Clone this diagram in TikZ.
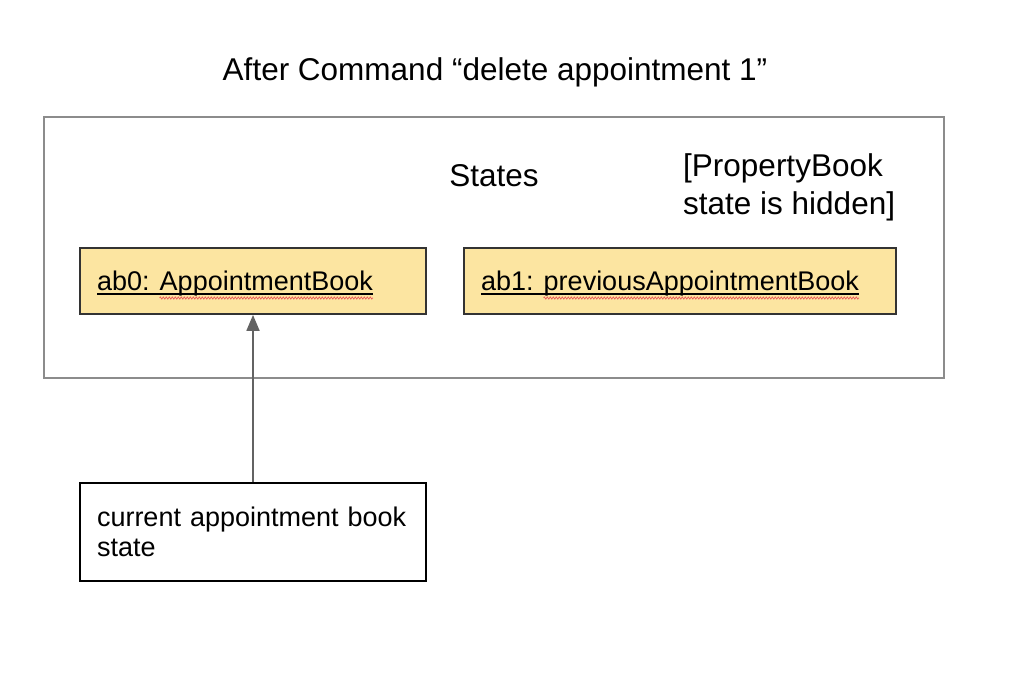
\documentclass[tikz,border=0pt]{standalone}
\usepackage{fontspec}
\setmainfont{Liberation Sans}
\usepackage{xcolor}
\usepackage{tikz}
\usetikzlibrary{positioning, arrows.meta, decorations.pathmorphing}
\definecolor{abYellow}{RGB}{252, 229, 161}
\definecolor{abBorder}{RGB}{51, 51, 51}
\definecolor{abFrame}{RGB}{140, 140, 140}
\definecolor{abArrow}{RGB}{99, 99, 99}
\definecolor{abSpell}{RGB}{235, 90, 90}
\tikzset{
    big/.style={
        font=\fontsize{31.5}{38}\selectfont,
        inner sep=0pt
    },
    small/.style={
        font=\fontsize{27}{30}\selectfont,
        inner sep=0pt
    },
    frame/.style={
        rectangle,
        draw=abFrame,
        line width=1.8pt
    },
    objbox/.style={
        rectangle,
        draw=abBorder,
        fill=abYellow,
        line width=1.8pt,
        minimum height=66pt
    },
    notebox/.style={
        small,
        rectangle,
        draw=black,
        line width=1.4pt,
        align=left,
        inner xsep=17pt,
        minimum height=98pt
    },
    objtext/.style={
        small,
        anchor=base west
    },
    underbar/.style={
        line width=1.6pt,
        black
    },
    spell/.style={
        abSpell,
        line width=0.7pt,
        decorate,
        decoration={zigzag, segment length=3pt, amplitude=1.1pt}
    },
    pointer/.style={
        -{Triangle[width=13pt, length=16pt]},
        line width=1.8pt,
        color=abArrow
    }
}

\begin{document}
\begin{tikzpicture}[x=1pt, y=-1pt]
  \useasboundingbox (0,0) rectangle (1018,676);

  % Title
  \node[big, anchor=base] (title) at (495,81) {After Command “delete appointment 1”};

  % Frame
  \node[frame, minimum width=900pt, minimum height=261pt] (states) at (494,247.5) {};
  \node[big, anchor=base] (stateslabel) at (494,187) {States};
  \node[big, anchor=north west, align=left] (hidden) at (683,153) {[PropertyBook\\state is hidden]};

  % Objects
  \node[objbox, minimum width=346pt] (ab0) at (253,281) {};
  \node[objbox, minimum width=432pt] (ab1) at (680,281) {};

  \node[objtext] (ab0text) at (97,291) {ab0: AppointmentBook};
  \node[small, anchor=base east] (ab0word) at (ab0text.base east) {\phantom{AppointmentBook}};
  \node[objtext] (ab1text) at (481,291) {ab1: previousAppointmentBook};
  \node[small, anchor=base east] (ab1word) at (ab1text.base east) {\phantom{previousAppointmentBook}};

  % Underlines
  \draw[underbar] ([yshift=-3pt]ab0text.base west) -- ([yshift=-3pt]ab0text.base east);
  \draw[underbar] ([yshift=-3pt]ab1text.base west) -- ([yshift=-3pt]ab1text.base east);
  \draw[spell] ([yshift=-7pt]ab0word.base west) -- ([yshift=-7pt]ab0word.base east);
  \draw[spell] ([yshift=-7pt]ab1word.base west) -- ([yshift=-7pt]ab1word.base east);

  % Current state
  \node[notebox, text width=312pt, minimum width=346pt] (current) at (253,532) {current appointment book\\state};
  \draw[pointer] (current.north) -- (ab0.south);

\end{tikzpicture}
\end{document}
